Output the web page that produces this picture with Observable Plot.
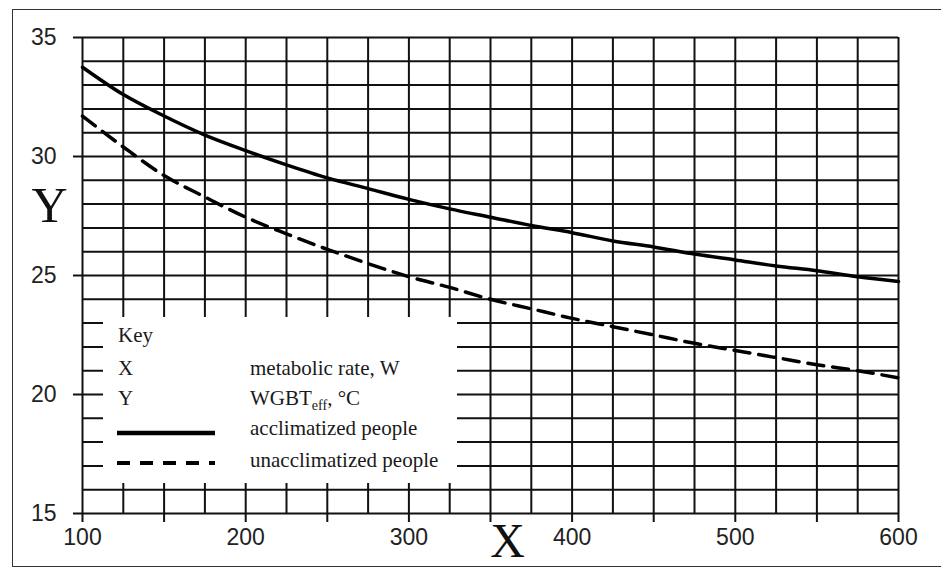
<!DOCTYPE html>
<html>
<head>
<meta charset="utf-8">
<script src="https://cdn.jsdelivr.net/npm/d3@7"></script>
<script src="https://cdn.jsdelivr.net/npm/@observablehq/plot@0.6"></script>
<style>
  html, body { margin: 0; padding: 0; background: #fff; }
  #wrap { position: relative; width: 941px; height: 569px; overflow: hidden; background: #fff; }
  #frame { position: absolute; left: 12px; top: 9px; width: 960px; height: 558px; border: 1.5px solid #333; box-sizing: border-box; }
  #chart { position: absolute; left: 0; top: 0; }
  #legend { position: absolute; left: 103px; top: 317px; width: 354px; height: 166px; background: #fff; }
  #legend svg { display: block; }
  #legend text { font-family: "Liberation Serif", serif; font-size: 21px; fill: #1a1a1a; }
</style>
</head>
<body>
<div id="wrap">
  <div id="frame"></div>
  <div id="chart"></div>
  <div id="legend"></div>
</div>
<script>
// Data
const metabolicRate = [100, 125, 150, 175, 200, 225, 250, 275, 300, 325, 350, 375, 400, 425, 450, 475, 500, 525, 550, 575, 600];
const acclimatized   = [33.75, 32.6, 31.7, 30.9, 30.25, 29.65, 29.1, 28.65, 28.2, 27.8, 27.45, 27.1, 26.8, 26.45, 26.2, 25.9, 25.65, 25.4, 25.2, 24.95, 24.75];
const unacclimatized = [31.7, 30.4, 29.2, 28.3, 27.45, 26.75, 26.1, 25.5, 24.95, 24.5, 24.0, 23.6, 23.2, 22.85, 22.5, 22.15, 21.85, 21.55, 21.25, 21.0, 20.7];

const xTickLabels = [100, 200, 300, 400, 500, 600];
const xTickMarks  = [100, 150, 200, 250, 300, 350, 400, 450, 500, 550, 600];
const yTickLabels = [15, 20, 25, 30, 35];
const xGridLines  = [100, 125, 150, 175, 200, 225, 250, 275, 300, 325, 350, 375, 400, 425, 450, 475, 500, 525, 550, 575, 600];
const yGridLines  = [15, 16, 17, 18, 19, 20, 21, 22, 23, 24, 25, 26, 27, 28, 29, 30, 31, 32, 33, 34, 35];

const seriesNames = ["acclimatized people", "unacclimatized people"];
const keyRows = [
  ["X", "metabolic rate, W"],
  ["Y", "WGBT", "eff", ", °C"]
];

const rows = [];
metabolicRate.forEach((m, i) => {
  rows.push({x: m, y: acclimatized[i], s: seriesNames[0]});
  rows.push({x: m, y: unacclimatized[i], s: seriesNames[1]});
});

const chart = Plot.plot({
  width: 941,
  height: 569,
  marginLeft: 82,
  marginRight: 43,
  marginTop: 37,
  marginBottom: 56,
  x: {domain: [100, 600]},
  y: {domain: [15, 35]},
  style: {fontFamily: "'Liberation Sans', sans-serif", fontSize: "23px", color: "#222", background: "transparent", overflow: "visible"},
  marks: [
    Plot.ruleY(yGridLines, {stroke: "#111", strokeWidth: 2}),
    Plot.ruleX(xGridLines, {stroke: "#111", strokeWidth: 2}),
    Plot.axisY({ticks: yTickLabels, tickSize: 9, tickPadding: 17, label: null, stroke: "#111", strokeWidth: 2}),
    Plot.axisX({ticks: xTickMarks, tickSize: 9, tickPadding: 6, label: null, stroke: "#111", strokeWidth: 2,
      tickFormat: d => xTickLabels.includes(d) ? String(d) : ""}),
    Plot.line(rows.filter(d => d.s === seriesNames[0]), {x: "x", y: "y", stroke: "#000", strokeWidth: 3.5, curve: "monotone-x"}),
    Plot.line(rows.filter(d => d.s === seriesNames[1]), {x: "x", y: "y", stroke: "#000", strokeWidth: 3.5, strokeDasharray: "16,9", curve: "monotone-x"}),
    Plot.text(["Y"], {frameAnchor: "left", textAnchor: "middle", lineAnchor: "middle", dx: -33, dy: -70, fontSize: 50, fontFamily: "'Liberation Serif', serif", fill: "#111"}),
    Plot.text(["X"], {frameAnchor: "bottom", textAnchor: "middle", lineAnchor: "middle", dx: 17, dy: 28, fontSize: 48, fontFamily: "'Liberation Serif', serif", fill: "#111"})
  ]
});
document.getElementById("chart").appendChild(chart);

// Key box (legend)
const lsvg = d3.select("#legend").append("svg").attr("width", 354).attr("height", 166);
lsvg.append("text").attr("x", 15).attr("y", 25).text("Key");
lsvg.append("text").attr("x", 15).attr("y", 58).text(keyRows[0][0]);
lsvg.append("text").attr("x", 147).attr("y", 58).text(keyRows[0][1]);
lsvg.append("text").attr("x", 15).attr("y", 88).text(keyRows[1][0]);
const t = lsvg.append("text").attr("x", 147).attr("y", 88);
t.append("tspan").text(keyRows[1][1]);
t.append("tspan").attr("font-size", 14).attr("dy", 5).text(keyRows[1][2]);
t.append("tspan").attr("dy", -5).text(keyRows[1][3]);
lsvg.append("line").attr("x1", 14).attr("x2", 112).attr("y1", 116).attr("y2", 116).attr("stroke", "#000").attr("stroke-width", 4.5);
lsvg.append("text").attr("x", 147).attr("y", 118).text(seriesNames[0]);
lsvg.append("line").attr("x1", 14).attr("x2", 112).attr("y1", 146).attr("y2", 146).attr("stroke", "#000").attr("stroke-width", 4).attr("stroke-dasharray", "13,10");
lsvg.append("text").attr("x", 147).attr("y", 150).text(seriesNames[1]);
</script>
</body>
</html>
